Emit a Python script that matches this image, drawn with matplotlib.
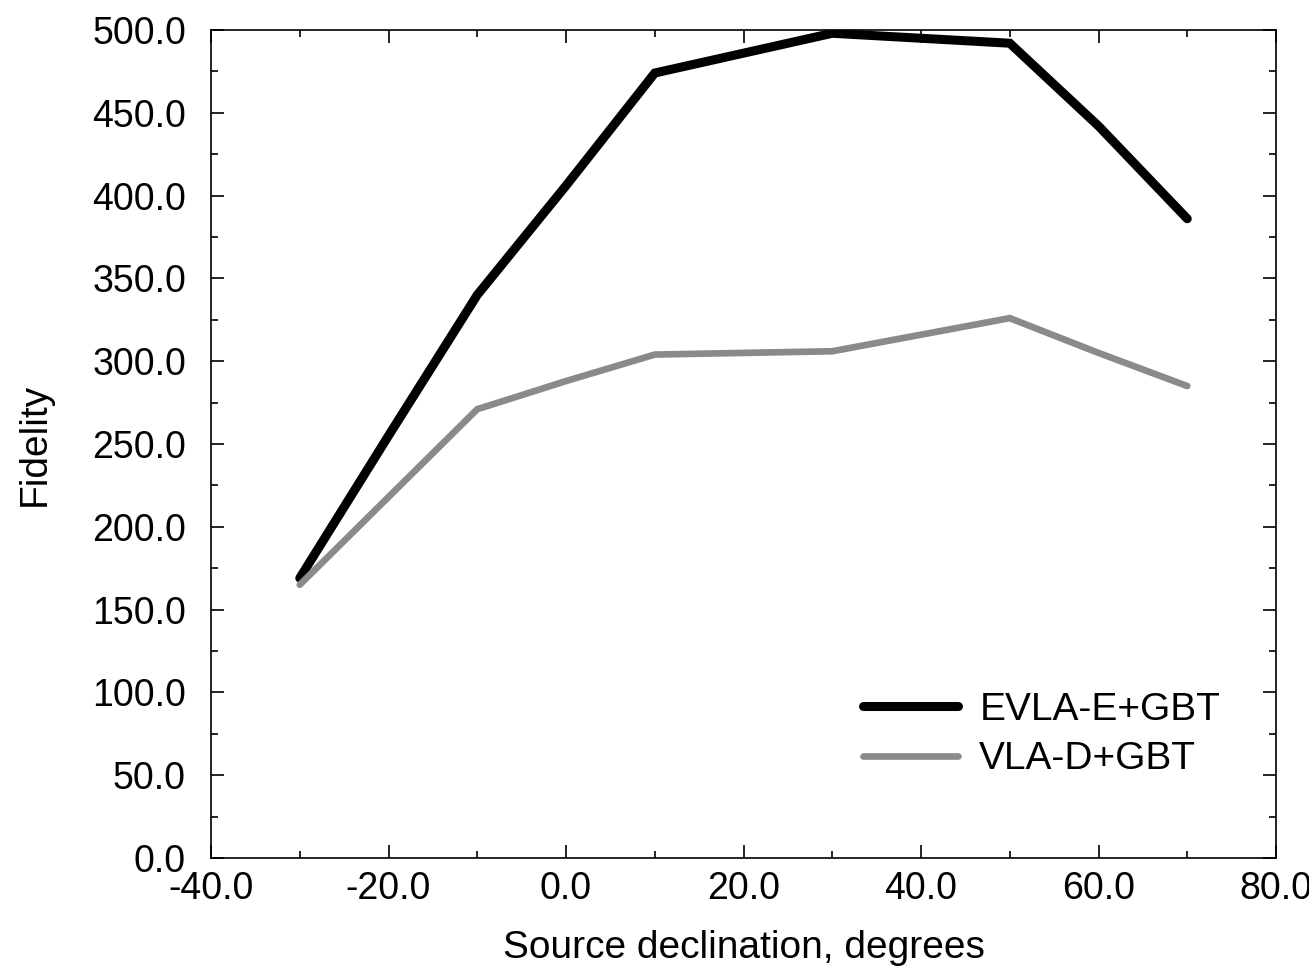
import matplotlib
matplotlib.use("Agg")
import matplotlib.pyplot as plt
from matplotlib.ticker import MultipleLocator, FormatStrFormatter

# Дані
declination = [-30, -20, -10, 0, 10, 20, 30, 40, 50, 60, 70]
evla_e_gbt = [169, 255, 340, 406, 474, 486, 498, 495, 492, 442, 386]
vla_d_gbt = [165, 218, 271, 288, 304, 305, 306, 316, 326, 305, 285]
labels = ["EVLA-E+GBT", "VLA-D+GBT"]

plt.rcParams['font.family'] = ['Liberation Sans', 'DejaVu Sans']

fig = plt.figure(figsize=(13.09, 9.67), dpi=100)
ax = fig.add_axes([0.1612, 0.1127, 0.8136, 0.8563])

ax.plot(declination, evla_e_gbt, color='black', lw=6.5, solid_capstyle='round',
        solid_joinstyle='miter', label=labels[0])
ax.plot(declination, vla_d_gbt, color='#8a8a8a', lw=4.8, solid_capstyle='round',
        solid_joinstyle='miter', label=labels[1])

ax.set_xlim(-40, 80)
ax.set_ylim(0, 500)
ax.xaxis.set_major_locator(MultipleLocator(20))
ax.xaxis.set_minor_locator(MultipleLocator(10))
ax.yaxis.set_major_locator(MultipleLocator(50))
ax.yaxis.set_minor_locator(MultipleLocator(25))
ax.xaxis.set_major_formatter(FormatStrFormatter('%.1f'))
ax.yaxis.set_major_formatter(FormatStrFormatter('%.1f'))

ax.tick_params(which='both', direction='in', top=True, right=True, labelsize=27)
ax.tick_params(which='major', length=9.4, width=1.2)
ax.tick_params(which='minor', length=5, width=1.2)
ax.tick_params(axis='x', which='major', pad=9)
ax.tick_params(axis='y', which='major', pad=18)
for s in ax.spines.values():
    s.set_linewidth(1.2)

ax.set_xlabel("Source declination, degrees", fontsize=28, labelpad=17)
ax.set_ylabel("Fidelity", fontsize=28, labelpad=28)

leg = ax.legend(loc='center left', bbox_to_anchor=(0.579, 0.149), frameon=False,
                fontsize=28, handlelength=2.45, handletextpad=0.55, labelspacing=0.35)

fig.savefig("out.png", dpi=100)
